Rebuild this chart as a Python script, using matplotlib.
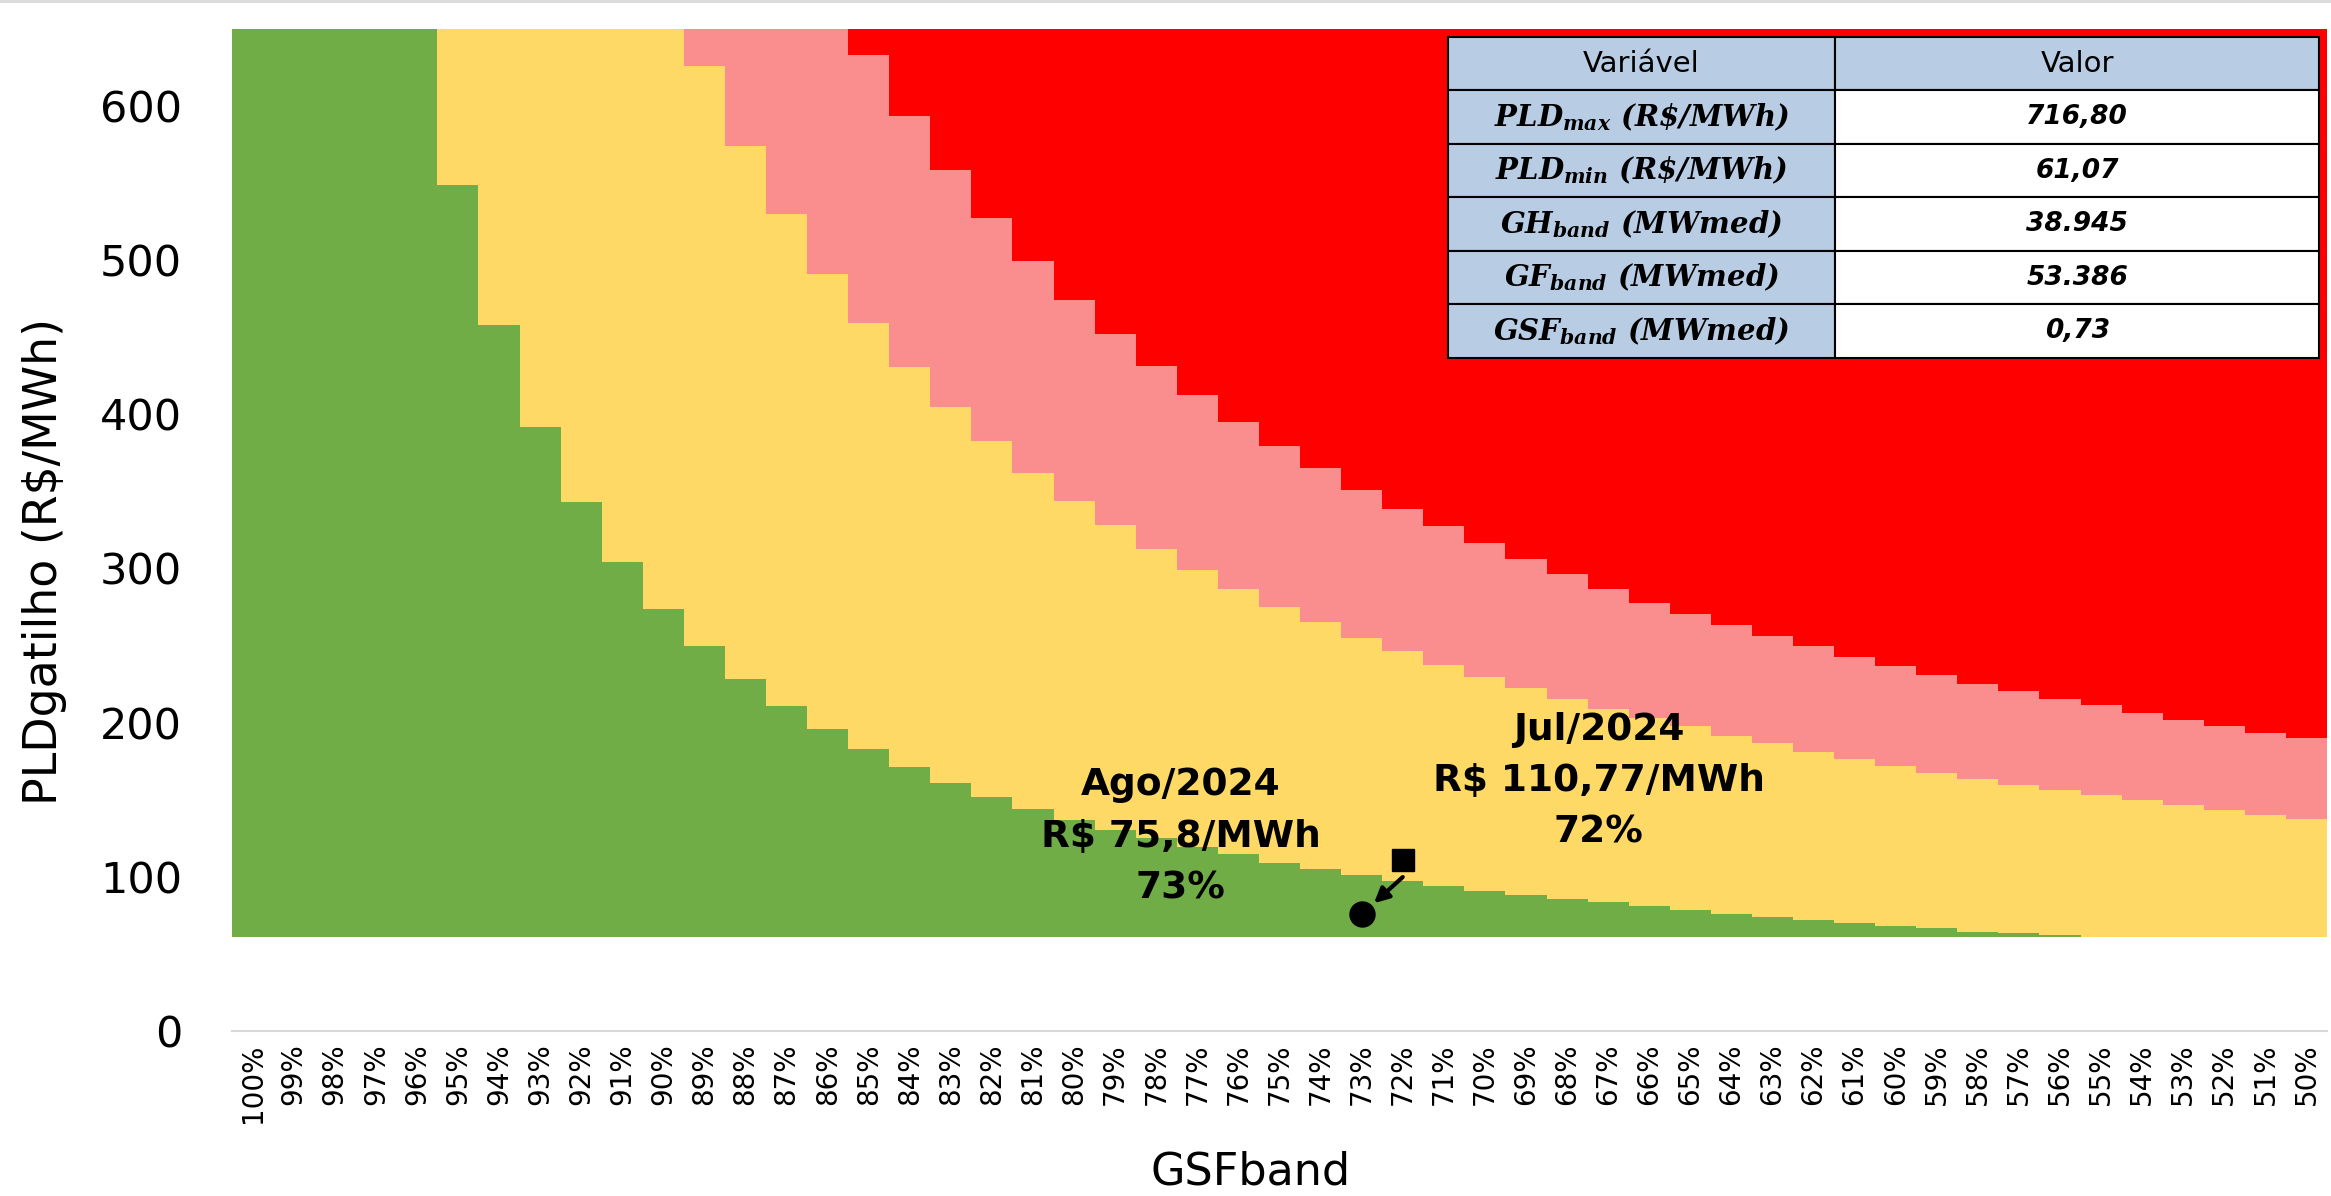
import numpy as np
import matplotlib
matplotlib.use("Agg")
import matplotlib.pyplot as plt

plt.rcParams['mathtext.fontset'] = 'custom'
plt.rcParams['mathtext.it'] = 'DejaVu Serif:italic:bold'
plt.rcParams['mathtext.rm'] = 'DejaVu Serif:italic:bold'
plt.rcParams['mathtext.bf'] = 'DejaVu Serif:italic:bold'

# GSFband categories (%), left to right
gsf = [100, 99, 98, 97, 96, 95, 94, 93, 92, 91, 90, 89, 88, 87, 86, 85, 84,
       83, 82, 81, 80, 79, 78, 77, 76, 75, 74, 73, 72, 71, 70, 69, 68, 67,
       66, 65, 64, 63, 62, 61, 60, 59, 58, 57, 56, 55, 54, 53, 52, 51, 50]

pld_min = 61.07
pld_max = 716.80

# upper limit of each band (R$/MWh); values above the
# axis top are capped at PLDmax
lim_verde = [716.8, 716.8, 716.8, 716.8, 716.8, 549, 458, 392, 343, 304.5,
             274, 250, 228, 211, 196, 183, 171, 161, 152, 144, 137, 130.5,
             125, 119.5, 114.5, 109, 105, 101.3, 97.3, 94, 91, 87.8, 85.5,
             83.3, 80.7, 78.6, 75.8, 74, 71.8, 69.8, 67.9, 66.4, 64.4, 63.3,
             62.2, 61.07, 61.07, 61.07, 61.07, 61.07, 61.07]
lim_amarelo = [716.8, 716.8, 716.8, 716.8, 716.8, 716.8, 716.8, 716.8, 716.8,
               716.8, 716.8, 626, 574, 530, 491, 459, 431, 405, 383, 362, 344,
               328, 312.5, 299, 287, 275, 265.5, 255, 246.3, 237.5, 229.8,
               222.2, 215.3, 208.8, 203.2, 197.9, 191.5, 186.5, 181.2, 176.2,
               171.6, 167.4, 163.6, 159.8, 156.4, 152.9, 149.5, 146.4, 143.4,
               140.2, 137.2]
lim_rosa = [716.8, 716.8, 716.8, 716.8, 716.8, 716.8, 716.8, 716.8, 716.8,
            716.8, 716.8, 716.8, 716.8, 716.8, 716.8, 633, 593.5, 558.3, 527.3,
            499.4, 474.5, 452.3, 431.6, 412.8, 394.9, 379.6, 365, 351.2, 338.6,
            327.5, 316.4, 306, 296.4, 286.9, 277.7, 270.7, 263.5, 255.9, 249.4,
            242.5, 236.4, 231, 224.9, 220.3, 215.3, 211.1, 206.1, 201.5, 197.7,
            193.1, 189.7]

# monthly points
pontos_gsf = [72, 73]
pontos_pld = [110.77, 75.8]
pontos_txt = ["Jul/2024\nR$ 110,77/MWh\n72%", "Ago/2024\nR$ 75,8/MWh\n73%"]

tab_var = [r"$PLD_{max}\ (R\$/MWh)$", r"$PLD_{min}\ (R\$/MWh)$",
           r"$GH_{band}\ (MWmed)$", r"$GF_{band}\ (MWmed)$",
           r"$GSF_{band}\ (MWmed)$"]
tab_val = ["716,80", "61,07", "38.945", "53.386", "0,73"]

n = len(gsf)
xe = np.arange(n + 1) - 0.5


def ext(v):
    v = np.asarray(v, dtype=float)
    return np.append(v, v[-1])


fig = plt.figure(figsize=(23.31, 11.96), dpi=100)
ax = fig.add_axes([0.09953, 0.13813, 0.89876, 0.83754])

base = ext([pld_min] * n)
verde = ext(lim_verde)
amarelo = ext(lim_amarelo)
rosa = ext(lim_rosa)
topo = ext([pld_max] * n)

ax.fill_between(xe, base, verde, step="post", color="#70AD47", lw=0)
ax.fill_between(xe, verde, amarelo, step="post", color="#FED966", lw=0)
ax.fill_between(xe, amarelo, rosa, step="post", color="#FA8E8E", lw=0)
ax.fill_between(xe, rosa, topo, step="post", color="#FF0000", lw=0)

ax.set_xlim(-0.5, n - 0.5)
ax.set_ylim(0, 650)
ax.set_yticks(range(0, 601, 100))
ax.set_xticks(range(n))
ax.set_xticklabels([f"{g}%" for g in gsf], rotation=90, fontsize=20)
ax.tick_params(axis="y", labelsize=31, length=0, pad=36)
ax.tick_params(axis="x", length=0, pad=9)
for s in ["top", "right", "left"]:
    ax.spines[s].set_visible(False)
ax.spines["bottom"].set_color("#D9D9D9")
ax.spines["bottom"].set_linewidth(1.5)

ax.set_xlabel("GSFband", fontsize=32)
ax.xaxis.label.set_va("center")
ax.xaxis.set_label_coords(0.4864, -0.141)
ax.set_ylabel("PLDgatilho (R$/MWh)", fontsize=33)
ax.yaxis.label.set_va("center")
ax.yaxis.set_label_coords(-0.0893, 0.469)

# points, arrow and notes
xj = gsf.index(pontos_gsf[0])
xa = gsf.index(pontos_gsf[1])
ax.plot(xj, pontos_pld[0], marker="s", color="black", ms=16, ls="none")
ax.plot(xa, pontos_pld[1], marker="o", color="black", ms=18, ls="none")
ax.annotate("", xy=(xa + 0.3, pontos_pld[1] + 7), xytext=(xj, pontos_pld[0] - 11),
            arrowprops=dict(arrowstyle="-|>", color="black", lw=3,
                            mutation_scale=22, shrinkA=0, shrinkB=0))
ax.text(32.77, 162, pontos_txt[0], ha="center", va="center", fontsize=27,
        fontweight="bold", linespacing=1.55)
ax.text(22.6, 126, pontos_txt[1], ha="center", va="center", fontsize=27,
        fontweight="bold", linespacing=1.55)

# parameter table
cells = [["Variável", "Valor"]] + [[a, b] for a, b in zip(tab_var, tab_val)]
colors = [["#B8CCE4", "#B8CCE4"]] + [["#B8CCE4", "white"]] * len(tab_var)
tab = ax.table(cellText=cells, cellColours=colors, cellLoc="center",
               colWidths=[0.4448, 0.5552], bbox=[0.5802, 0.6719, 0.4161, 0.3202])
tab.set_zorder(10)
tab.auto_set_font_size(False)
for (r, c), cell in tab.get_celld().items():
    cell.set_edgecolor("black")
    cell.set_linewidth(1.5)
    t = cell.get_text()
    if r == 0:
        t.set_fontsize(21)
    elif c == 0:
        t.set_fontsize(21)
    else:
        t.set_fontsize(19)
        t.set_fontweight("bold")
        t.set_fontstyle("italic")

fig.add_artist(plt.Line2D([0, 1], [0.999, 0.999], color="#D9D9D9", lw=2,
                          transform=fig.transFigure))

fig.savefig("out.png", dpi=100, facecolor="white")
